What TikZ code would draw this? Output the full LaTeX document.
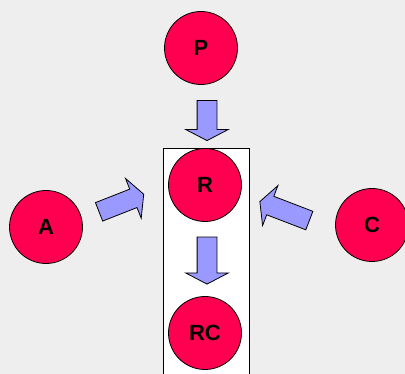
\documentclass[tikz,border=0pt]{standalone}
\usepackage{fontspec}
\setmainfont{Liberation Sans}
\usetikzlibrary{shapes.arrows}
\definecolor{panelgray}{HTML}{EEEEEE}
\definecolor{placered}{HTML}{FF0050}
\definecolor{flowblue}{HTML}{9999FF}
\begin{document}
\begin{tikzpicture}[x=1pt, y=-1pt,
    place/.style={circle, draw, fill=placered, line width=0.8pt, minimum size=73pt, inner sep=0pt, font=\fontsize{22}{22}\selectfont\bfseries},
    flow/.style={single arrow, draw, fill=flowblue, line width=0.8pt, inner xsep=0pt, inner ysep=9.5pt, single arrow head extend=11.5pt, single arrow tip angle=125}]
    \useasboundingbox (0,0) rectangle (405,374);
    \fill[panelgray] (0,0) rectangle (405,374);
    \clip (0,0) rectangle (405,374);
    \draw[fill=white, line width=0.8pt] (163,148) rectangle (249,390);
    \foreach \name/\x/\y in {P/201/48, R/205/185, RC/205/333, A/46/227, C/372/225} {
        \node[place] (\name) at (\x,\y) {\name};
    }
    \node[flow, minimum height=40pt, rotate=-90] (PtoR) at (207,118) {};
    \node[flow, minimum height=47pt, rotate=-90] (RtoRC) at (207,258) {};
    \node[flow, minimum height=48pt, rotate=21.5] (AtoR) at (119,204) {};
    \node[flow, minimum height=53pt, rotate=159] (CtoR) at (287,212) {};
\end{tikzpicture}
\end{document}
